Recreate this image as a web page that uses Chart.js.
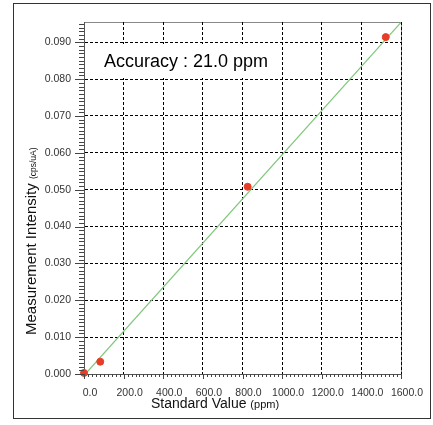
<!DOCTYPE html>
<html>
<head>
<meta charset="utf-8">
<script src="https://cdn.jsdelivr.net/npm/chart.js@4.4.1/dist/chart.umd.min.js"></script>
<style>
  html, body { margin: 0; padding: 0; background: #fff; }
  #wrap { width: 433px; height: 425px; }
</style>
</head>
<body>
<div id="wrap"><canvas id="calibChart"></canvas></div>
<script>
// standards (ppm) vs measured intensity (cps/uA)
const standardValues = [0, 82, 826, 1523];
const intensities = [0.0003, 0.00334, 0.0508, 0.0914];

const fitX = [7, 1600];
const fitY = [0, 0.0954];

const xTicks = [0, 200, 400, 600, 800, 1000, 1200, 1400, 1600];
const yTicks = [0, 0.01, 0.02, 0.03, 0.04, 0.05, 0.06, 0.07, 0.08, 0.09];

const accuracyText = 'Accuracy : 21.0 ppm';
const xTitle = ['Standard Value ', '(ppm)'];
const yTitle = ['Measurement Intensity ', '(cps/uA)'];

const FONT = "'Liberation Sans', Arial, sans-serif";

// frame, minor ticks and titles
const decor = {
  id: 'decor',
  beforeDraw(chart) {
    const { ctx, chartArea: a } = chart;
    ctx.save();
    ctx.fillStyle = '#fff';
    ctx.fillRect(0, 0, chart.width, chart.height);
    ctx.strokeStyle = '#333';
    ctx.lineWidth = 1;
    ctx.strokeRect(13.5, 3.5, 417, 415);
    // top / right edge of plot
    ctx.strokeStyle = '#888';
    ctx.beginPath();
    ctx.moveTo(Math.round(a.left) + 0.5, Math.round(a.top) + 0.5);
    ctx.lineTo(Math.round(a.right) + 0.5, Math.round(a.top) + 0.5);
    ctx.lineTo(Math.round(a.right) + 0.5, Math.round(a.bottom) + 0.5);
    ctx.stroke();
    ctx.restore();
  },
  beforeDatasetsDraw(chart) {
    // white box behind the accuracy note hides the grid there
    const { ctx, chartArea: a } = chart;
    ctx.save();
    ctx.fillStyle = '#fff';
    ctx.fillRect(a.left + 16, a.top + 22, 176, 34);
    ctx.restore();
  },
  afterDraw(chart) {
    const { ctx, chartArea: a } = chart;
    const xs = chart.scales.x, ys = chart.scales.y;
    ctx.save();
    ctx.strokeStyle = '#444';
    ctx.lineWidth = 1;
    ctx.beginPath();
    // y ticks, minor every 0.001
    for (let i = 0; i <= 95; i++) {
      const py = Math.round(ys.getPixelForValue(i / 1000)) + 0.5;
      const len = i % 10 === 0 ? 9 : 5;
      ctx.moveTo(a.left - len, py);
      ctx.lineTo(a.left, py);
    }
    // x ticks, minor every 20
    for (let v = 0; v <= 1600; v += 20) {
      const px = Math.round(xs.getPixelForValue(v)) + 0.5;
      const len = v % 200 === 0 ? 5 : 3;
      ctx.moveTo(px, a.bottom);
      ctx.lineTo(px, a.bottom + len);
    }
    ctx.stroke();

    ctx.fillStyle = '#111';
    ctx.textBaseline = 'alphabetic';
    ctx.textAlign = 'left';

    // x title
    let x = a.left + 67, y = a.bottom + 34;
    ctx.font = '14px ' + FONT;
    ctx.fillText(xTitle[0], x, y);
    x += ctx.measureText(xTitle[0]).width;
    ctx.font = '11px ' + FONT;
    ctx.fillText(xTitle[1], x, y);

    // y title
    ctx.save();
    ctx.translate(a.left - 48, a.bottom - 39);
    ctx.rotate(-Math.PI / 2);
    ctx.font = '15px ' + FONT;
    ctx.fillText(yTitle[0], 0, 0);
    const w = ctx.measureText(yTitle[0]).width;
    ctx.font = '8.5px ' + FONT;
    ctx.fillText(yTitle[1], w, 0);
    ctx.restore();

    // accuracy note
    ctx.fillStyle = '#000';
    ctx.font = '18px ' + FONT;
    ctx.fillText(accuracyText, a.left + 20, a.top + 45);
    ctx.restore();
  }
};

new Chart(document.getElementById('calibChart'), {
  type: 'scatter',
  data: {
    datasets: [{
      label: 'Standards',
      data: standardValues.map((v, i) => ({ x: v, y: intensities[i] })),
      backgroundColor: '#e63d26',
      borderColor: '#e63d26',
      pointRadius: 3.5,
      clip: false
    }, {
      label: 'Calibration',
      type: 'line',
      data: fitX.map((v, i) => ({ x: v, y: fitY[i] })),
      borderColor: '#80c77c',
      borderWidth: 1.2,
      pointRadius: 0,
      fill: false
    }]
  },
  options: {
    responsive: true,
    maintainAspectRatio: false,
    animation: false,
    events: [],
    layout: { padding: { left: 14, top: 22, right: 32, bottom: 21 } },
    plugins: { legend: { display: false }, tooltip: { enabled: false } },
    scales: {
      x: {
        type: 'linear',
        min: 0,
        max: 1600,
        afterBuildTicks: s => { s.ticks = xTicks.map(v => ({ value: v })); },
        afterFit: s => { s.height = 30; },
        ticks: {
          callback: v => Number(v).toFixed(1),
          font: { family: FONT, size: 10.5 },
          color: '#333',
          padding: 13,
          labelOffset: 6,
          maxRotation: 0,
          autoSkip: false
        },
        grid: {
          color: c => (c.tick && c.tick.value === 0 ? 'rgba(0,0,0,0)' : '#000'),
          lineWidth: 1,
          drawTicks: false
        },
        border: { color: '#555', width: 1, dash: [3, 2] }
      },
      y: {
        min: 0,
        max: 0.0955,
        afterBuildTicks: s => { s.ticks = yTicks.map(v => ({ value: v })); },
        afterFit: s => { s.width = 70; },
        ticks: {
          callback: v => Number(v).toFixed(3),
          font: { family: FONT, size: 10.5 },
          color: '#333',
          padding: 13,
          autoSkip: false
        },
        grid: {
          color: c => (c.tick && c.tick.value === 0 ? 'rgba(0,0,0,0)' : '#000'),
          lineWidth: 1,
          drawTicks: false
        },
        border: { color: '#555', width: 1, dash: [3, 2] }
      }
    }
  },
  plugins: [decor]
});
</script>
</body>
</html>
